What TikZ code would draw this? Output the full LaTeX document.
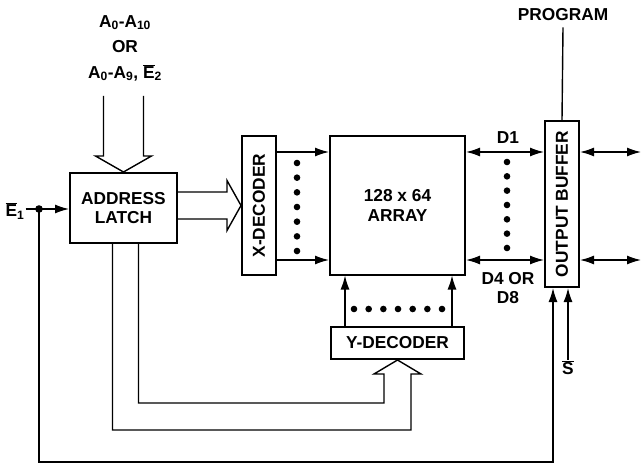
\documentclass[tikz,border=0pt]{standalone}
\usepackage{fontspec}
\setmainfont{Liberation Sans}
\usetikzlibrary{arrows.meta,calc,positioning}
\newcommand{\ovl}[1]{\ensuremath{\overline{\mbox{#1}}}}

\begin{document}
\begin{tikzpicture}[
  x=1pt, y=-1pt,
  font=\fontsize{17.3}{19.5}\selectfont\bfseries,
  blk/.style={rectangle, draw, line width=2pt, inner sep=0pt},
  arrow/.style={-{Latex[length=14pt,width=9pt]}, line width=1.4pt},
  dblarrow/.style={{Latex[length=14pt,width=9pt]}-{Latex[length=14pt,width=9pt]}, line width=1.4pt},
  bus/.style={line width=1.4pt, line join=miter},
  lbl/.style={inner sep=1pt},
]
\useasboundingbox (0,0) rectangle (642,465);

% Blocks
\node[blk, minimum width=107pt, minimum height=70pt, align=center] (latch) at (123.5,208) {ADDRESS\\LATCH};
\node[blk, minimum width=34pt, minimum height=138pt] (xdec) at (259,205.5) {};
\node[rotate=90] (xdectxt) at (xdec) {X-DECODER};
\node[blk, minimum width=135pt, minimum height=138pt, align=center] (array) at (397.5,205.5) {128 x 64\\ARRAY};
\node[blk, minimum width=133pt, minimum height=32pt] (ydec) at (397.5,343) {Y-DECODER};
\node[blk, minimum width=34pt, minimum height=166pt] (obuf) at (562,204) {};
\node[rotate=90] (obuftxt) at (obuf) {OUTPUT BUFFER};

% Labels
\node[align=center, font=\fontsize{17.3}{25.5}\selectfont\bfseries] (ain) at (125,48)
  {A\textsubscript{0}-A\textsubscript{10}\\OR\\A\textsubscript{0}-A\textsubscript{9}, \ovl{E}\textsubscript{2}};
\node[lbl] (prog) at (563,15) {PROGRAM};
\node[lbl] (e1) at (15,211) {\ovl{E}\textsubscript{1}};
\node[lbl] (s) at (568,368) {\ovl{S}};
\node[lbl] (d1) at (508,138) {D1};
\node[lbl, align=center] (d48) at (508,288) {D4 OR\\D8};
\coordinate (e1dot) at (39,209);

% Rows and columns
\coordinate (r1) at (0,152);
\coordinate (r2) at (0,260);
\coordinate (c1) at (345,0);
\coordinate (c2) at (452,0);
\coordinate (q1) at (641,152);
\coordinate (q2) at (641,260);

% Address bus in
\draw[bus] ([xshift=-20pt]latch.north) ++(0,-76) -- ++(0,60) -- ++(-8,0) -- (latch.north)
  -- ++(28,-16) -- ++(-8,0) -- ++(0,-60);

% Bus to X-decoder
\coordinate (xtip) at (xdec.west);
\draw[bus] (xtip) ++(-65,-13.5) -- ++(51,0) -- ++(0,-11.5) -- (xtip) -- ++(-14,25)
  -- ++(0,-11.5) -- ++(-51,0);

% Bus to Y-decoder
\draw[bus] ([xshift=-11pt]latch.south) |- ($(ydec.south)+(13.5,70)$) -- ($(ydec.south)+(13.5,14)$)
  -- ($(ydec.south)+(23.5,14)$) -- (ydec.south) -- ($(ydec.south)+(-23.5,14)$)
  -- ($(ydec.south)+(-13.5,14)$) -- ($(ydec.south)+(-13.5,43)$) -| ([xshift=15pt]latch.south);

% X-decoder to array
\draw[arrow] (xdec.east |- r1) -- (array.west |- r1);
\draw[arrow] (xdec.east |- r2) -- (array.west |- r2);
\foreach \k in {0,...,6} \fill (297,163+14.67*\k) circle (3.3pt);

% Y-decoder to array
\draw[arrow] (ydec.north -| c1) -- (array.south -| c1);
\draw[arrow] (ydec.north -| c2) -- (array.south -| c2);
\foreach \k in {0,...,6} \fill (354+14.67*\k,309) circle (3.3pt);

% Data lines
\draw[dblarrow] (array.east |- r1) -- (obuf.west |- r1);
\draw[dblarrow] (array.east |- r2) -- (obuf.west |- r2);
\foreach \k in {0,...,6} \fill (507,162+14.33*\k) circle (3.3pt);
\draw[dblarrow] (obuf.east |- q1) -- (q1);
\draw[dblarrow] (obuf.east |- q2) -- (q2);

% Control
\draw[line width=1.4pt] ([yshift=-5pt]prog.south) -- (obuf.north);
\draw[line width=1.4pt] (e1dot -| e1.east) -- (e1dot);
\draw[arrow] (e1dot) -- (latch.west |- e1dot);
\fill (e1dot) circle (3.8pt);
\draw[arrow] (e1dot) -- ++(0,253) -| ([xshift=-9pt]obuf.south);
\draw[arrow] (s.north) -- (s.north |- obuf.south);
\end{tikzpicture}
\end{document}
